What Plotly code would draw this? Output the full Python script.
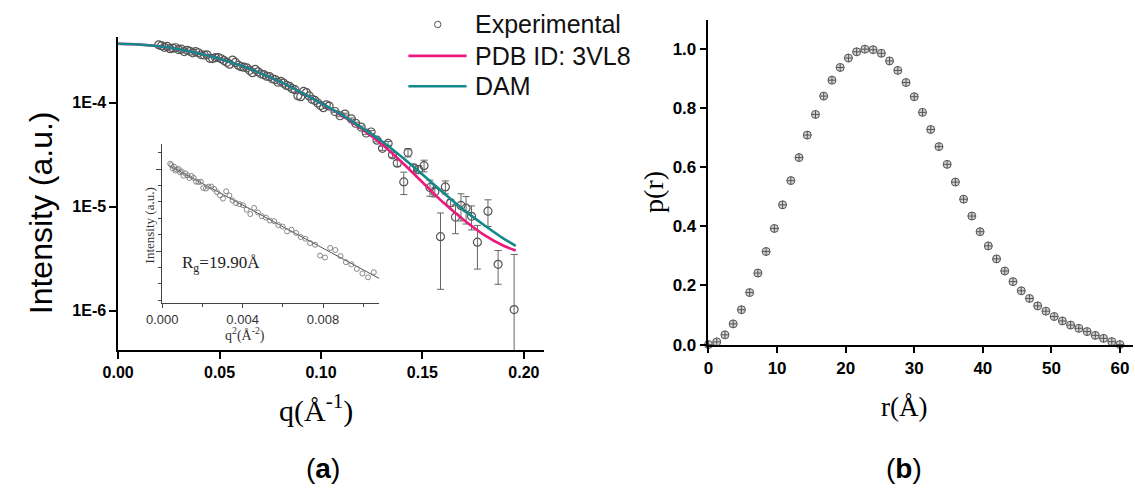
import math
import plotly.graph_objects as go

W, H = 1135, 493

# ---------------- (a) SAXS profile ----------------
# Low-q experimental points (also used for the Guinier inset)
q_low = [0.0200, 0.0214, 0.0228, 0.0242, 0.0256, 0.0270, 0.0284, 0.0298, 0.0312, 0.0326,
         0.0340, 0.0354, 0.0368, 0.0382, 0.0396, 0.0410, 0.0424, 0.0438, 0.0452, 0.0466,
         0.0480, 0.0494, 0.0508, 0.0522, 0.0536, 0.0550, 0.0564, 0.0578, 0.0592, 0.0606,
         0.0620, 0.0634, 0.0648, 0.0662, 0.0676, 0.0690, 0.0704, 0.0718, 0.0732, 0.0746,
         0.0760, 0.0774, 0.0788, 0.0802, 0.0816, 0.0830, 0.0844, 0.0858, 0.0872, 0.0886,
         0.0900, 0.0914, 0.0928, 0.0942, 0.0956, 0.0970, 0.0984, 0.0998, 0.1012, 0.1026,
         0.1040]
i_low = [3.587e-4, 3.524e-4, 3.393e-4, 3.466e-4, 3.299e-4, 3.333e-4, 3.366e-4, 3.232e-4, 3.260e-4, 3.095e-4,
         3.182e-4, 3.111e-4, 3.008e-4, 3.088e-4, 3.014e-4, 2.881e-4, 2.866e-4, 2.878e-4, 2.666e-4, 2.647e-4,
         2.708e-4, 2.713e-4, 2.637e-4, 2.536e-4, 2.438e-4, 2.342e-4, 2.561e-4, 2.433e-4, 2.288e-4, 2.216e-4,
         2.188e-4, 2.159e-4, 2.046e-4, 1.938e-4, 2.090e-4, 1.977e-4, 1.889e-4, 1.858e-4, 1.791e-4, 1.778e-4,
         1.695e-4, 1.664e-4, 1.569e-4, 1.602e-4, 1.539e-4, 1.464e-4, 1.434e-4, 1.361e-4, 1.332e-4, 1.167e-4,
         1.140e-4, 1.281e-4, 1.250e-4, 1.160e-4, 1.077e-4, 1.049e-4, 9.920e-5, 9.377e-5, 8.944e-5, 9.520e-5,
         9.256e-5]

# High-q experimental points with their uncertainties
q_high = [0.1069, 0.1094, 0.1118, 0.1150, 0.1171, 0.1198, 0.1223, 0.1247, 0.1276, 0.1303,
          0.1331, 0.1352, 0.1376, 0.1408, 0.1429, 0.1456, 0.1481, 0.1508, 0.1537, 0.1561,
          0.1589, 0.1613, 0.1639, 0.1663, 0.1690, 0.1715, 0.1742, 0.1771, 0.1823, 0.1873,
          0.1952]
i_high = [8.22e-5, 7.48e-5, 7.76e-5, 6.97e-5, 6.34e-5, 5.82e-5, 5.11e-5, 5.22e-5, 4.36e-5, 3.64e-5,
          4.06e-5, 3.15e-5, 2.62e-5, 1.73e-5, 3.31e-5, 2.36e-5, 2.28e-5, 2.48e-5, 1.53e-5, 1.39e-5,
          5.16e-6, 1.55e-5, 1.09e-5, 7.96e-6, 1.03e-5, 9.68e-6, 8.09e-6, 4.57e-6, 9.06e-6, 2.80e-6,
          1.03e-6]
err_high = [1.5e-6, 1.5e-6, 1.6e-6, 1.5e-6, 1.5e-6, 1.5e-6, 1.5e-6, 1.6e-6, 1.6e-6, 1.6e-6,
            1.7e-6, 1.7e-6, 1.8e-6, 4.2e-6, 3.0e-6, 1.9e-6, 2.0e-6, 3.2e-6, 2.7e-6, 1.5e-6,
            3.55e-6, 2.2e-6, 0.8e-6, 2.45e-6, 3.0e-6, 2.85e-6, 2.1e-6, 2.05e-6, 2.6e-6, 1.0e-6,
            2.45e-6]

# Model scattering curves
q_model = [0.000, 0.010, 0.020, 0.030, 0.040, 0.050, 0.060, 0.070, 0.080, 0.090,
           0.100, 0.110, 0.120, 0.130, 0.140, 0.150, 0.160, 0.170, 0.180, 0.190, 0.196]
i_pdb = [3.67e-4, 3.62e-4, 3.48e-4, 3.26e-4, 2.97e-4, 2.64e-4, 2.28e-4, 1.92e-4, 1.58e-4, 1.26e-4,
         9.85e-5, 7.59e-5, 5.62e-5, 3.98e-5, 2.66e-5, 1.72e-5, 1.109e-5, 7.59e-6, 5.43e-6, 4.22e-6, 3.80e-6]
i_dam = [3.67e-4, 3.62e-4, 3.48e-4, 3.26e-4, 2.97e-4, 2.64e-4, 2.28e-4, 1.92e-4, 1.58e-4, 1.26e-4,
         9.85e-5, 7.69e-5, 5.75e-5, 4.25e-5, 2.985e-5, 2.042e-5, 1.380e-5, 9.44e-6, 6.76e-6, 4.95e-6, 4.22e-6]

# Guinier fit
rg = 19.90
i0 = 3.67e-4
fit_q2 = [0.0004, 0.0108]

# ---------------- (b) pair distance distribution ----------------
r_vals = [0.0, 1.2, 2.4, 3.6, 4.8, 6.0, 7.2, 8.4, 9.6, 10.8,
          12.0, 13.2, 14.4, 15.6, 16.8, 18.0, 19.2, 20.4, 21.6, 22.8,
          24.0, 25.2, 26.4, 27.6, 28.8, 30.0, 31.2, 32.4, 33.6, 34.8,
          36.0, 37.2, 38.4, 39.6, 40.8, 42.0, 43.2, 44.4, 45.6, 46.8,
          48.0, 49.2, 50.4, 51.6, 52.8, 54.0, 55.2, 56.4, 57.6, 58.8, 60.0]
p_vals = [0.000, 0.009, 0.033, 0.070, 0.118, 0.176, 0.242, 0.315, 0.393, 0.473,
          0.555, 0.633, 0.709, 0.779, 0.841, 0.895, 0.938, 0.970, 0.991, 1.000,
          0.998, 0.986, 0.960, 0.928, 0.887, 0.839, 0.786, 0.728, 0.670, 0.610,
          0.550, 0.492, 0.435, 0.382, 0.334, 0.290, 0.249, 0.213, 0.182, 0.156,
          0.131, 0.113, 0.095, 0.080, 0.066, 0.055, 0.044, 0.031, 0.021, 0.010, 0.000]

PINK = "#ec1a7c"
TEAL = "#13898b"
SANS = "Liberation Sans"
SERIF = "Liberation Serif"


def px(x):
    return x / W


def py(y):
    return 1 - y / H


fig = go.Figure()

# main panel
fig.add_trace(go.Scatter(x=q_low, y=i_low, mode="markers", xaxis="x", yaxis="y",
                         marker=dict(symbol="circle-open", size=8, color="#555555",
                                     line=dict(width=1.2, color="#555555")),
                         showlegend=False))
fig.add_trace(go.Scatter(x=q_high, y=i_high, mode="markers", xaxis="x", yaxis="y",
                         error_y=dict(type="data", array=err_high, color="#666666",
                                      thickness=1, width=3.5),
                         marker=dict(symbol="circle-open", size=8, color="#555555",
                                     line=dict(width=1.2, color="#555555")),
                         showlegend=False))
fig.add_trace(go.Scatter(x=q_model, y=i_pdb, mode="lines", xaxis="x", yaxis="y",
                         line=dict(color=PINK, width=2.6, shape="spline", smoothing=0.8),
                         showlegend=False))
fig.add_trace(go.Scatter(x=q_model, y=i_dam, mode="lines", xaxis="x", yaxis="y",
                         line=dict(color=TEAL, width=2.6, shape="spline", smoothing=0.8),
                         showlegend=False))

# Guinier inset
q2_low = [q * q for q in q_low]
ln_low = [math.log(v) for v in i_low]
fit_ln = [math.log(i0) - rg * rg / 3.0 * s for s in fit_q2]
fig.add_trace(go.Scatter(x=fit_q2, y=fit_ln, mode="lines", xaxis="x2", yaxis="y2",
                         line=dict(color="#555555", width=1), showlegend=False))
fig.add_trace(go.Scatter(x=q2_low, y=ln_low, mode="markers", xaxis="x2", yaxis="y2",
                         marker=dict(symbol="circle-open", size=5, color="#7a7a7a",
                                     line=dict(width=0.9, color="#7a7a7a")),
                         cliponaxis=False, showlegend=False))

# p(r) panel
fig.add_trace(go.Scatter(x=r_vals, y=p_vals, mode="markers", xaxis="x3", yaxis="y3",
                         marker=dict(symbol="circle-cross", size=8, color="#d2d2d2",
                                     line=dict(width=1, color="#555555")),
                         cliponaxis=False, showlegend=False))

axis_common = dict(showline=True, linecolor="black", showgrid=False, zeroline=False,
                   ticks="outside", tickcolor="black", mirror=False)

fig.update_layout(
    width=W, height=H,
    margin=dict(l=0, r=0, t=0, b=0),
    paper_bgcolor="white", plot_bgcolor="rgba(0,0,0,0)",
    xaxis=dict(domain=[px(103.6), px(535.7)], range=[0, 0.21], anchor="y",
               tickvals=[0, 0.05, 0.10, 0.15, 0.20], tickformat=".2f",
               linewidth=1.6, ticklen=7, tickwidth=1.6,
               tickfont=dict(family=SANS, size=16, color="black", weight="bold"),
               **axis_common),
    yaxis=dict(domain=[py(357.7), py(38)], type="log", range=[-6.38, -3.372], anchor="x",
               tickvals=[1e-6, 1e-5, 1e-4], ticktext=["1E-6", "1E-5", "1E-4"],
               linewidth=1.6, ticklen=7, tickwidth=1.6,
               tickfont=dict(family=SANS, size=16, color="black", weight="bold"),
               **axis_common),
    xaxis2=dict(domain=[px(148.3), px(368.5)], range=[0, 0.0108], anchor="y2",
                tick0=0, dtick=0.004, tickformat=".3f",
                showline=True, linecolor="#444444", linewidth=1, showgrid=False, zeroline=False,
                ticks="outside", ticklen=4, tickcolor="#444444",
                minor=dict(ticks="outside", ticklen=3, dtick=0.002, tickcolor="#444444"),
                tickfont=dict(family=SANS, size=13, color="#333333")),
    yaxis2=dict(domain=[py(309.5), py(146.7)], range=[-9.638, -7.689], anchor="x2",
                tick0=0, dtick=1, showticklabels=False,
                showline=True, linecolor="#444444", linewidth=1, showgrid=False, zeroline=False,
                ticks="outside", ticklen=5, tickcolor="#444444",
                minor=dict(ticks="outside", ticklen=3, dtick=0.2, tickcolor="#444444")),
    xaxis3=dict(domain=[px(702.4), px(1133)], range=[0, 61.9], anchor="y3",
                tick0=0, dtick=10, linewidth=1.6, ticklen=7, tickwidth=1.6,
                tickfont=dict(family=SANS, size=17, color="black", weight="bold"),
                **axis_common),
    yaxis3=dict(domain=[py(351.7), py(20)], range=[0, 1.1], anchor="x3",
                tick0=0, dtick=0.2, tickformat=".1f", linewidth=1.6, ticklen=7, tickwidth=1.6,
                tickfont=dict(family=SANS, size=17, color="black", weight="bold"),
                **axis_common),
)

ann = []
# axis titles
ann.append(dict(text="Intensity (a.u.)", x=px(25), y=py(217), textangle=-90,
                font=dict(family=SANS, size=32, color="black")))
ann.append(dict(text="q(Å<sup>-1</sup>)", x=px(304), y=py(417),
                font=dict(family=SERIF, size=30, color="black")))
ann.append(dict(text="p(r)", x=px(646), y=py(196), textangle=-90,
                font=dict(family=SERIF, size=28, color="black")))
ann.append(dict(text="r(Å)", x=px(901), y=py(415),
                font=dict(family=SERIF, size=27, color="black")))
# panel labels
ann.append(dict(text="(<b>a</b>)", x=px(311), y=py(478),
                font=dict(family=SANS, size=28, color="black")))
ann.append(dict(text="(<b>b</b>)", x=px(901), y=py(478),
                font=dict(family=SANS, size=28, color="black")))
# inset texts
ann.append(dict(text="Intensity (a.u.)", x=px(135), y=py(230), textangle=-90,
                font=dict(family=SERIF, size=13, color="#333333")))
ann.append(dict(text="q<sup>2</sup>(Å<sup>-2</sup>)", x=px(232), y=py(341),
                font=dict(family=SERIF, size=14, color="#333333")))
ann.append(dict(text="R<sub>g</sub>=%.2fÅ" % rg, x=px(166), y=py(269), xanchor="left",
                font=dict(family=SERIF, size=17, color="#222222")))
# legend texts
for label, yy in [("Experimental", 25), ("PDB ID: 3VL8", 57), ("DAM", 88)]:
    ann.append(dict(text=label, x=px(464), y=py(yy), xanchor="left",
                    font=dict(family=SANS, size=25, color="#111111")))

for a in ann:
    a.setdefault("xanchor", "center")
    a["yanchor"] = "middle"
    a["xref"] = "paper"
    a["yref"] = "paper"
    a["showarrow"] = False
fig.update_layout(annotations=ann)

shapes = [
    dict(type="line", xref="paper", yref="paper", x0=px(398), x1=px(457), y0=py(57), y1=py(57),
         line=dict(color=PINK, width=2.6)),
    dict(type="line", xref="paper", yref="paper", x0=px(398), x1=px(457), y0=py(88), y1=py(88),
         line=dict(color=TEAL, width=2.6)),
    dict(type="circle", xref="paper", yref="paper", x0=px(424.5), x1=px(431), y0=py(28.3), y1=py(21.7),
         line=dict(color="#555555", width=1)),
]
fig.update_layout(shapes=shapes)

fig.write_html("out.html")
